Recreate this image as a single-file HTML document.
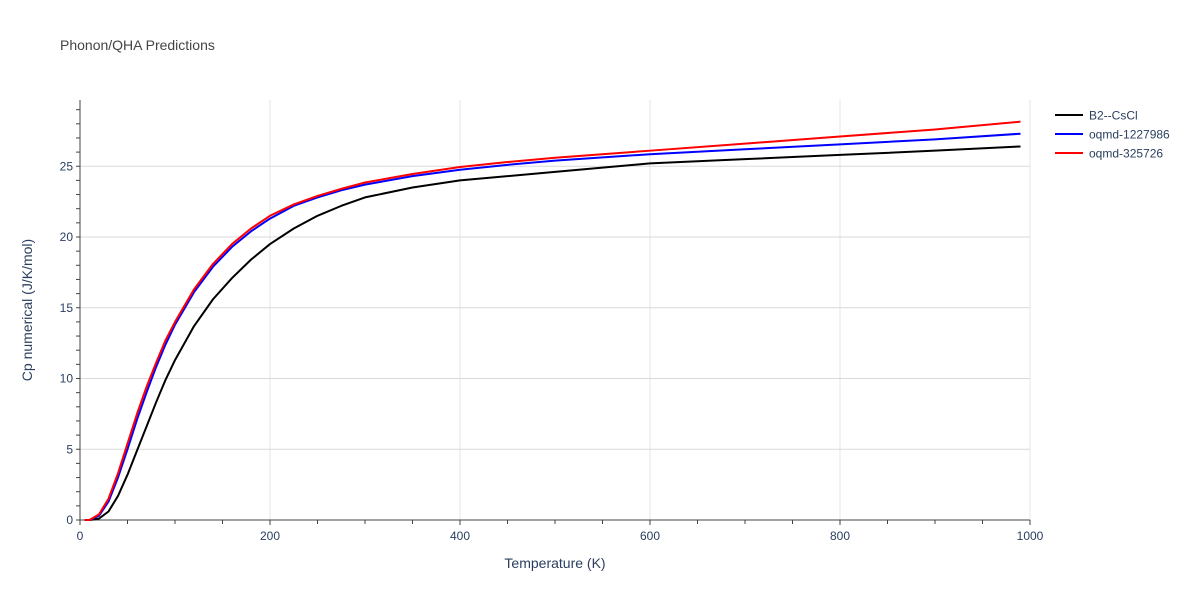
<!DOCTYPE html>
<html><head><meta charset="utf-8"><style>
body{margin:0;background:#fff;font-family:"Liberation Sans",sans-serif;}
text{font-family:"Liberation Sans",sans-serif;}
</style></head><body>
<svg width="1200" height="600" xmlns="http://www.w3.org/2000/svg">
<text x="60" y="50" font-size="14" fill="#444">Phonon/QHA Predictions</text>
<g id="grid"></g>
<g id="axes"></g>
<g id="series"></g>
<text x="555" y="568" font-size="14" fill="#2a3f5f" text-anchor="middle">Temperature (K)</text>
<text transform="translate(32,310) rotate(-90)" font-size="14" fill="#2a3f5f" text-anchor="middle">Cp numerical (J/K/mol)</text>
<g id="legend"></g>
</svg>
<script>
const xTicks=[0,200,400,600,800,1000];
const yTicks=[0,5,10,15,20,25];
const temps=[5,10,20,30,40,50,60,70,80,90,100,120,140,160,180,200,225,250,275,300,350,400,450,500,600,700,800,900,990];
const cpB2=[0,0,0.1,0.6,1.7,3.2,4.9,6.6,8.3,9.9,11.3,13.7,15.6,17.1,18.4,19.5,20.6,21.5,22.2,22.8,23.5,24.0,24.3,24.6,25.2,25.5,25.8,26.1,26.4];
const cpBlue=[0,0,0.3,1.3,3.0,5.0,7.1,9.0,10.8,12.4,13.8,16.1,17.9,19.3,20.4,21.3,22.2,22.8,23.3,23.7,24.3,24.75,25.1,25.4,25.85,26.2,26.55,26.9,27.3];
const cpRed=[0,0,0.4,1.5,3.3,5.4,7.5,9.4,11.1,12.7,14.0,16.3,18.1,19.5,20.6,21.5,22.3,22.9,23.4,23.85,24.45,24.95,25.3,25.6,26.1,26.6,27.1,27.6,28.15];
const seriesNames=["B2--CsCl","oqmd-1227986","oqmd-325726"];
const colors=["#000","#0000ff","#ff0000"];
const NS="http://www.w3.org/2000/svg";
const X=t=>80+t*0.95, Y=v=>520-v*14.15;
function mk(tag,attrs,parent){const e=document.createElementNS(NS,tag);for(const k in attrs)e.setAttribute(k,attrs[k]);parent.appendChild(e);return e;}
const grid=document.getElementById('grid'),axes=document.getElementById('axes'),ser=document.getElementById('series'),leg=document.getElementById('legend');
xTicks.forEach(t=>{if(t>0){const l=mk('line',{x1:X(t),x2:X(t),y1:100,y2:520,stroke:'#e5e5e5','stroke-width':1},grid);

}
const tx=mk('text',{x:X(t),y:540,'font-size':12,fill:'#2a3f5f','text-anchor':'middle'},axes);tx.textContent=t;

});
for(let t=0;t<=1000;t+=50){const l=mk('line',{x1:X(t),x2:X(t),y1:520,y2:t%200==0?525:524,stroke:'#444','stroke-width':1},axes);

}
yTicks.forEach(v=>{if(v>0){const l=mk('line',{x1:80,x2:1030,y1:Y(v),y2:Y(v),stroke:'#d9d9d9','stroke-width':1},grid);

}
const tx=mk('text',{x:73,y:Y(v)+4,'font-size':12,fill:'#2a3f5f','text-anchor':'end'},axes);tx.textContent=v;

});
for(let v=0;v<=29;v++){const l=mk('line',{x1:76,x2:80,y1:Y(v),y2:Y(v),stroke:'#444','stroke-width':1},axes);

}
const ax=mk('line',{x1:80,x2:1030,y1:520,y2:520,stroke:'#444','stroke-width':1},axes);


const ay=mk('line',{x1:80,x2:80,y1:100,y2:520,stroke:'#444','stroke-width':1},axes);


[cpB2,cpBlue,cpRed].forEach((d,i)=>{
const p=mk('polyline',{points:temps.map((t,j)=>X(t)+','+Y(d[j])).join(' '),fill:'none',stroke:colors[i],'stroke-width':2,'stroke-linejoin':'round'},ser);


const ly=115+i*19;
const ll=mk('line',{x1:1055,x2:1083,y1:ly,y2:ly,stroke:colors[i],'stroke-width':2},leg);


const lt=mk('text',{x:1089,y:ly+4.5,'font-size':12,fill:'#2a3f5f'},leg);lt.textContent=seriesNames[i];


});
</script>
</body></html>
